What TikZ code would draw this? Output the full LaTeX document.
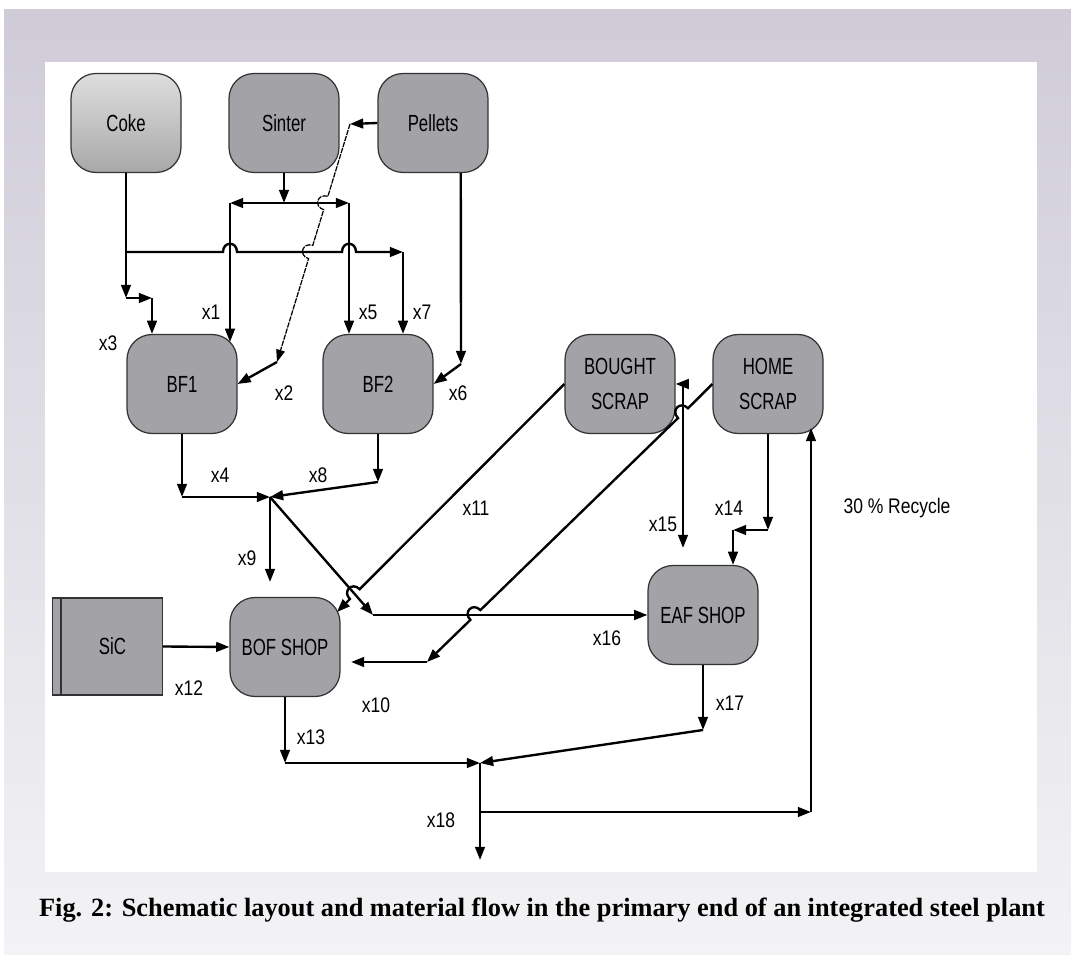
\documentclass[tikz,border=0pt]{standalone}
\usepackage{fontspec}
\setmainfont{Liberation Sans}
\newfontfamily\boxfont[FakeStretch=0.72]{Liberation Sans}
\newfontfamily\tagfont[FakeStretch=0.83]{Liberation Sans}
\newfontfamily\capfont{Liberation Serif}
\usepackage{xcolor}
\definecolor{unitgray}{RGB}{163,163,167}
\definecolor{bgtop}{RGB}{207,204,216}
\definecolor{bgbot}{RGB}{243,243,245}
\definecolor{cokehi}{RGB}{222,222,222}
\definecolor{cokelo}{RGB}{168,168,168}
\usetikzlibrary{arrows.meta, positioning, calc}

\tikzset{
  unit/.style={draw=black!80, line width=0.7pt, fill=unitgray, rounded corners=0.5cm,
    minimum width=2.2cm, minimum height=1.98cm, inner sep=0pt, align=center,
    font=\boxfont\fontsize{13.3}{19.5}\selectfont},
  flow/.style={line width=1.35pt, -{Triangle[length=7.5pt,width=5.5pt]}},
  both/.style={line width=1.35pt, {Triangle[length=7.5pt,width=5.5pt]}-{Triangle[length=7.5pt,width=5.5pt]}},
  thinflow/.style={line width=0.7pt, dash pattern=on 3pt off 0.6pt, -{Triangle[length=7pt,width=5pt]}},
  tag/.style={font=\tagfont\fontsize{12}{14}\selectfont, inner sep=0pt},
}

\begin{document}
\begin{tikzpicture}[x=0.02cm, y=-0.02cm]
  \useasboundingbox (0,0) rectangle (1071,955);

  % Page background and panel
  \fill[white] (0,0) rectangle (1071,955);
  \shade[top color=bgtop, bottom color=bgbot] (4,10) rectangle (1071,955);
  \fill[white] (45,62) rectangle (1037,872);

  % Raw materials
  \node[unit, fill=none, top color=cokehi, bottom color=cokelo] (coke) at (126,123) {Coke};
  \node[unit] (sinter) at (284,123) {Sinter};
  \node[unit] (pellets) at (433,123) {Pellets};

  % Blast furnaces
  \node[unit] (bf1) at (182,384) {BF1};
  \node[unit] (bf2) at (378,384) {BF2};

  % Scrap
  \node[unit] (bought) at (620,384) {BOUGHT\\SCRAP};
  \node[unit] (home) at (768,384) {HOME\\SCRAP};

  % Shops
  \node[unit, rounded corners=0pt, minimum height=1.94cm] (sic) at (107.5,646.5) {\hspace*{0.2cm}SiC};
  \draw[black!80, line width=0.7pt] (sic.north west) ++(9,0) -- ++(0,97);
  \node[unit] (bof) at (285,647) {BOF SHOP};
  \node[unit] (eaf) at (703,615) {EAF SHOP};

  % Bend points
  \coordinate (c0) at (126,298);
  \coordinate (c1) at (152,298);
  \coordinate (c2) at (126,252);
  \coordinate (c3) at (403,252);
  \coordinate (s0) at (284,203);
  \coordinate (s1) at (230,203);
  \coordinate (s2) at (349,203);
  \coordinate (p0) at (350,124);
  \coordinate (p1) at (277,362);
  \coordinate (p2) at (461,364);
  \coordinate (b1) at (182,497);
  \coordinate (b2) at (378,482);
  \coordinate (j1) at (270,497);
  \coordinate (e9) at (270,582);
  \coordinate (d1) at (373,615);
  \coordinate (n11) at (337,612);
  \coordinate (q0) at (683,384);
  \coordinate (q1) at (683,548);
  \coordinate (h1) at (427,662);
  \coordinate (h2) at (351,662);
  \coordinate (h3) at (768,530);
  \coordinate (h4) at (733,530);
  \coordinate (o1) at (285,763);
  \coordinate (o2) at (703,730);
  \coordinate (j2) at (480,763);
  \coordinate (o3) at (480,860);
  \coordinate (r0) at (480,812);
  \coordinate (r1) at (811,812);
  \coordinate (r2) at (811,428);

  % Coke to the furnaces
  \draw[flow] (coke.south) -- (c0);
  \draw[flow] (c0) -- (c1);
  \draw[flow] (c1) -- (c1 |- bf1.north);
  \draw[flow] (c2) -- (223,252) .. controls (223,241) and (237,241) .. (237,252)
    -- (342,252) .. controls (342,241) and (356,241) .. (356,252) -- (c3);
  \draw[flow] (c3) -- (c3 |- bf2.north);

  % Sinter split
  \draw[flow] (sinter.south) -- (s0);
  \draw[both] (s1) -- (s2);
  \draw[flow] (s1) -- ($(s1 |- bf1.north)+(0,8)$);
  \draw[flow] (s2) -- (s2 |- bf2.north);

  % Pellets
  \draw[flow] (pellets.west) -- (p0);
  \draw[thinflow] (p0) -- (327.9,196.3) .. controls (317.4,193.1) and (313.2,206.5) .. (323.7,209.7)
    -- (312.8,245.3) .. controls (302.3,242.1) and (298.1,255.5) .. (308.6,258.7) -- (p1);
  \draw[flow] (p1) -- (bf1.east);
  \draw[flow] (pellets.-61) -- (p2);
  \draw[flow] (p2) -- (bf2.east);

  % Hot metal
  \draw[flow] (bf1.south) -- (b1);
  \draw[flow] (b1) -- (j1);
  \draw[flow] (bf2.south) -- (b2);
  \draw[flow] (b2) -- (j1);
  \draw[flow] (j1) -- (e9);
  \draw[flow] (j1) -- (d1);
  \draw[flow] (d1) -- (eaf.west);

  % Scrap lines
  \draw[flow] (bought.west) -- (359.7,589.2) .. controls (351.9,581.4) and (342.1,591.3) .. (349.9,599.1) -- (n11);
  \draw[both] (bought.east) -- (q0) -- (q1);
  \draw[flow] (home.west) -- (688.0,408.3) .. controls (680.3,400.4) and (670.3,410.2) .. (678.0,418.1)
    -- (480.4,610.1) .. controls (472.7,602.2) and (462.7,612.0) .. (470.4,619.9) -- (h1);
  \draw[flow] (h1) -- (h2);
  \draw[flow] (home.south) -- (h3);
  \draw[flow] (h3) -- (h4);
  \draw[flow] (h4) -- (h4 |- eaf.north);

  % SiC
  \draw[flow] (sic.east) -- (bof.west);

  % Steel out
  \draw[flow] (bof.south) -- (o1);
  \draw[flow] (o1) -- (j2);
  \draw[flow] (eaf.south) -- (o2);
  \draw[flow] (o2) -- (j2);
  \draw[flow] (j2) -- (o3);
  \draw[flow] (r0) -- (r1);
  \draw[flow] (r1) -- (r2);

  % Stream labels
  \node[tag] (lx1) at (211,312) {x1};
  \node[tag] (lx2) at (284,393) {x2};
  \node[tag] (lx3) at (108,343) {x3};
  \node[tag] (lx4) at (220,475) {x4};
  \node[tag] (lx5) at (368,312) {x5};
  \node[tag] (lx6) at (458,393) {x6};
  \node[tag] (lx7) at (422,312) {x7};
  \node[tag] (lx8) at (318,475) {x8};
  \node[tag] (lx9) at (247,558) {x9};
  \node[tag] (lx10) at (376,705) {x10};
  \node[tag] (lx11) at (476,508) {x11};
  \node[tag] (lx12) at (189,688) {x12};
  \node[tag] (lx13) at (311,737) {x13};
  \node[tag] (lx14) at (729,508) {x14};
  \node[tag] (lx15) at (663,524) {x15};
  \node[tag] (lx16) at (607,638) {x16};
  \node[tag] (lx17) at (730,703) {x17};
  \node[tag] (lx18) at (441,820) {x18};
  \node[tag] (lrec) at (897,508) {30 \% Recycle};

  % Caption
  \node[font=\capfont\bfseries\fontsize{15}{18}\selectfont] (cap) at (542,910)
    {Fig. 2: Schematic layout and material flow in the primary end of an integrated steel plant};
\end{tikzpicture}
\end{document}
